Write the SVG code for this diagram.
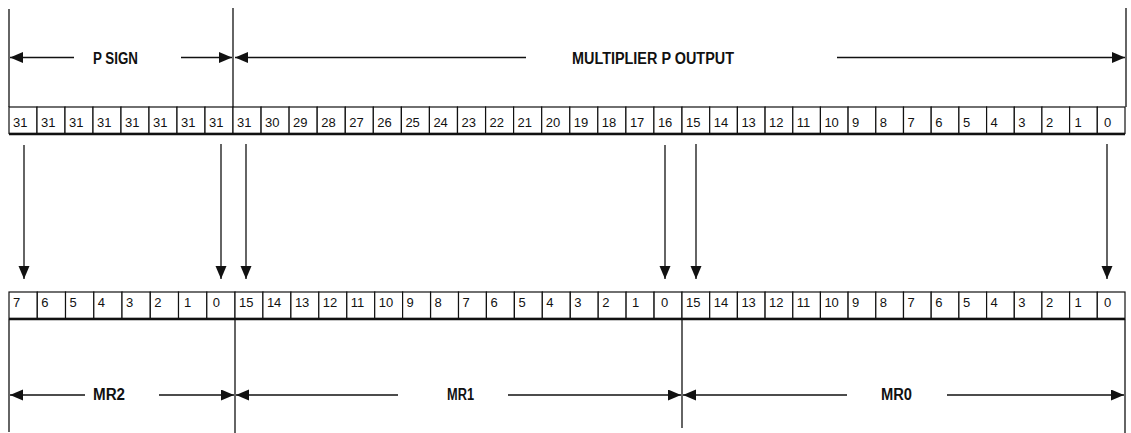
<svg xmlns="http://www.w3.org/2000/svg" width="1131" height="433" viewBox="0 0 1131 433">
<style>
.cell{fill:#fff;stroke:#111;stroke-width:1.2}
.num{font-family:"Liberation Sans",Arial,sans-serif;font-size:13px;fill:#111}
.lbl{font-family:"Liberation Sans",Arial,sans-serif;font-size:16px;font-weight:bold;fill:#111}
.ln{stroke:#111;stroke-width:1.3;fill:none}
.thick{stroke:#111;stroke-width:2.4;fill:none}
.arr{stroke:#111;stroke-width:1.3;fill:none;marker-end:url(#ah)}
</style>
<defs>
<marker id="ah" markerUnits="userSpaceOnUse" markerWidth="14" markerHeight="12" refX="13" refY="5.5" orient="auto">
<path d="M0,0 L13,5.5 L0,11 Z" fill="#111"/>
</marker>
</defs>
<rect width="1131" height="433" fill="#fff"/>

<g id="p-sign">
<rect class="cell" x="9" y="107" width="28" height="26.5"/><text class="num" x="13" y="127">31</text>
<rect class="cell" x="37" y="107" width="28" height="26.5"/><text class="num" x="41" y="127">31</text>
<rect class="cell" x="65" y="107" width="28" height="26.5"/><text class="num" x="69" y="127">31</text>
<rect class="cell" x="93" y="107" width="28" height="26.5"/><text class="num" x="97" y="127">31</text>
<rect class="cell" x="121" y="107" width="28" height="26.5"/><text class="num" x="125" y="127">31</text>
<rect class="cell" x="149" y="107" width="28" height="26.5"/><text class="num" x="153" y="127">31</text>
<rect class="cell" x="177" y="107" width="28" height="26.5"/><text class="num" x="181" y="127">31</text>
<rect class="cell" x="205" y="107" width="28" height="26.5"/><text class="num" x="209" y="127">31</text>
</g>

<g id="p-output">
<rect class="cell" x="233" y="107" width="28.06" height="26.5"/><text class="num" x="237" y="127">31</text>
<rect class="cell" x="261.1" y="107" width="28.06" height="26.5"/><text class="num" x="265.1" y="127">30</text>
<rect class="cell" x="289.1" y="107" width="28.06" height="26.5"/><text class="num" x="293.1" y="127">29</text>
<rect class="cell" x="317.2" y="107" width="28.06" height="26.5"/><text class="num" x="321.2" y="127">28</text>
<rect class="cell" x="345.3" y="107" width="28.06" height="26.5"/><text class="num" x="349.3" y="127">27</text>
<rect class="cell" x="373.3" y="107" width="28.06" height="26.5"/><text class="num" x="377.3" y="127">26</text>
<rect class="cell" x="401.4" y="107" width="28.06" height="26.5"/><text class="num" x="405.4" y="127">25</text>
<rect class="cell" x="429.4" y="107" width="28.06" height="26.5"/><text class="num" x="433.4" y="127">24</text>
<rect class="cell" x="457.5" y="107" width="28.06" height="26.5"/><text class="num" x="461.5" y="127">23</text>
<rect class="cell" x="485.6" y="107" width="28.06" height="26.5"/><text class="num" x="489.6" y="127">22</text>
<rect class="cell" x="513.6" y="107" width="28.06" height="26.5"/><text class="num" x="517.6" y="127">21</text>
<rect class="cell" x="541.7" y="107" width="28.06" height="26.5"/><text class="num" x="545.7" y="127">20</text>
<rect class="cell" x="569.8" y="107" width="28.06" height="26.5"/><text class="num" x="573.8" y="127">19</text>
<rect class="cell" x="597.8" y="107" width="28.06" height="26.5"/><text class="num" x="601.8" y="127">18</text>
<rect class="cell" x="625.9" y="107" width="28.06" height="26.5"/><text class="num" x="629.9" y="127">17</text>
<rect class="cell" x="653.9" y="107" width="28.06" height="26.5"/><text class="num" x="657.9" y="127">16</text>
<rect class="cell" x="682" y="107" width="27.69" height="26.5"/><text class="num" x="686" y="127">15</text>
<rect class="cell" x="709.7" y="107" width="27.69" height="26.5"/><text class="num" x="713.7" y="127">14</text>
<rect class="cell" x="737.4" y="107" width="27.69" height="26.5"/><text class="num" x="741.4" y="127">13</text>
<rect class="cell" x="765.1" y="107" width="27.69" height="26.5"/><text class="num" x="769.1" y="127">12</text>
<rect class="cell" x="792.8" y="107" width="27.69" height="26.5"/><text class="num" x="796.8" y="127">11</text>
<rect class="cell" x="820.4" y="107" width="27.69" height="26.5"/><text class="num" x="824.4" y="127">10</text>
<rect class="cell" x="848.1" y="107" width="27.69" height="26.5"/><text class="num" x="852.1" y="127">9</text>
<rect class="cell" x="875.8" y="107" width="27.69" height="26.5"/><text class="num" x="879.8" y="127">8</text>
<rect class="cell" x="903.5" y="107" width="27.69" height="26.5"/><text class="num" x="907.5" y="127">7</text>
<rect class="cell" x="931.2" y="107" width="27.69" height="26.5"/><text class="num" x="935.2" y="127">6</text>
<rect class="cell" x="958.9" y="107" width="27.69" height="26.5"/><text class="num" x="962.9" y="127">5</text>
<rect class="cell" x="986.6" y="107" width="27.69" height="26.5"/><text class="num" x="990.6" y="127">4</text>
<rect class="cell" x="1014.3" y="107" width="27.69" height="26.5"/><text class="num" x="1018.3" y="127">3</text>
<rect class="cell" x="1041.9" y="107" width="27.69" height="26.5"/><text class="num" x="1045.9" y="127">2</text>
<rect class="cell" x="1069.6" y="107" width="27.69" height="26.5"/><text class="num" x="1074.6" y="127">1</text>
<rect class="cell" x="1097.3" y="107" width="27.7" height="26.5"/><text class="num" x="1104" y="127">0</text>
</g>

<g id="mr2">
<rect class="cell" x="9" y="292" width="28.25" height="26.5"/><text class="num" x="13" y="307">7</text>
<rect class="cell" x="37.3" y="292" width="28.25" height="26.5"/><text class="num" x="41.3" y="307">6</text>
<rect class="cell" x="65.5" y="292" width="28.25" height="26.5"/><text class="num" x="69.5" y="307">5</text>
<rect class="cell" x="93.8" y="292" width="28.25" height="26.5"/><text class="num" x="97.8" y="307">4</text>
<rect class="cell" x="122" y="292" width="28.25" height="26.5"/><text class="num" x="126" y="307">3</text>
<rect class="cell" x="150.3" y="292" width="28.25" height="26.5"/><text class="num" x="154.3" y="307">2</text>
<rect class="cell" x="178.5" y="292" width="28.25" height="26.5"/><text class="num" x="184" y="307">1</text>
<rect class="cell" x="206.8" y="292" width="28.2" height="26.5"/><text class="num" x="212.8" y="307">0</text>
</g>

<g id="mr1">
<rect class="cell" x="235" y="292" width="27.94" height="26.5"/><text class="num" x="239" y="307">15</text>
<rect class="cell" x="262.9" y="292" width="27.94" height="26.5"/><text class="num" x="266.9" y="307">14</text>
<rect class="cell" x="290.9" y="292" width="27.94" height="26.5"/><text class="num" x="294.9" y="307">13</text>
<rect class="cell" x="318.8" y="292" width="27.94" height="26.5"/><text class="num" x="322.8" y="307">12</text>
<rect class="cell" x="346.8" y="292" width="27.94" height="26.5"/><text class="num" x="350.8" y="307">11</text>
<rect class="cell" x="374.7" y="292" width="27.94" height="26.5"/><text class="num" x="378.7" y="307">10</text>
<rect class="cell" x="402.6" y="292" width="27.94" height="26.5"/><text class="num" x="406.6" y="307">9</text>
<rect class="cell" x="430.6" y="292" width="27.94" height="26.5"/><text class="num" x="434.6" y="307">8</text>
<rect class="cell" x="458.5" y="292" width="27.94" height="26.5"/><text class="num" x="462.5" y="307">7</text>
<rect class="cell" x="486.4" y="292" width="27.94" height="26.5"/><text class="num" x="490.4" y="307">6</text>
<rect class="cell" x="514.4" y="292" width="27.94" height="26.5"/><text class="num" x="518.4" y="307">5</text>
<rect class="cell" x="542.3" y="292" width="27.94" height="26.5"/><text class="num" x="546.3" y="307">4</text>
<rect class="cell" x="570.3" y="292" width="27.94" height="26.5"/><text class="num" x="574.3" y="307">3</text>
<rect class="cell" x="598.2" y="292" width="27.94" height="26.5"/><text class="num" x="602.2" y="307">2</text>
<rect class="cell" x="626.1" y="292" width="27.94" height="26.5"/><text class="num" x="632.1" y="307">1</text>
<rect class="cell" x="654.1" y="292" width="27.9" height="26.5"/><text class="num" x="661" y="307">0</text>
</g>

<g id="mr0">
<rect class="cell" x="682" y="292" width="27.69" height="26.5"/><text class="num" x="686" y="307">15</text>
<rect class="cell" x="709.7" y="292" width="27.69" height="26.5"/><text class="num" x="713.7" y="307">14</text>
<rect class="cell" x="737.4" y="292" width="27.69" height="26.5"/><text class="num" x="741.4" y="307">13</text>
<rect class="cell" x="765.1" y="292" width="27.69" height="26.5"/><text class="num" x="769.1" y="307">12</text>
<rect class="cell" x="792.8" y="292" width="27.69" height="26.5"/><text class="num" x="796.8" y="307">11</text>
<rect class="cell" x="820.4" y="292" width="27.69" height="26.5"/><text class="num" x="824.4" y="307">10</text>
<rect class="cell" x="848.1" y="292" width="27.69" height="26.5"/><text class="num" x="852.1" y="307">9</text>
<rect class="cell" x="875.8" y="292" width="27.69" height="26.5"/><text class="num" x="879.8" y="307">8</text>
<rect class="cell" x="903.5" y="292" width="27.69" height="26.5"/><text class="num" x="907.5" y="307">7</text>
<rect class="cell" x="931.2" y="292" width="27.69" height="26.5"/><text class="num" x="935.2" y="307">6</text>
<rect class="cell" x="958.9" y="292" width="27.69" height="26.5"/><text class="num" x="962.9" y="307">5</text>
<rect class="cell" x="986.6" y="292" width="27.69" height="26.5"/><text class="num" x="990.6" y="307">4</text>
<rect class="cell" x="1014.3" y="292" width="27.69" height="26.5"/><text class="num" x="1018.3" y="307">3</text>
<rect class="cell" x="1041.9" y="292" width="27.69" height="26.5"/><text class="num" x="1045.9" y="307">2</text>
<rect class="cell" x="1069.6" y="292" width="27.69" height="26.5"/><text class="num" x="1074.6" y="307">1</text>
<rect class="cell" x="1097.3" y="292" width="27.7" height="26.5"/><text class="num" x="1104" y="307">0</text>
</g>

<g id="row-shading">
<line class="thick" x1="9" y1="134" x2="1125" y2="134"/>
<line class="thick" x1="9" y1="319" x2="1125" y2="319"/>
</g>

<g id="extents">
<line class="ln" x1="9" y1="9" x2="9" y2="107"/>
<line class="ln" x1="233" y1="8" x2="233" y2="107"/>
<line class="ln" x1="1126" y1="8" x2="1126" y2="107"/>
<line class="ln" x1="9" y1="319" x2="9" y2="432"/>
<line class="ln" x1="235" y1="319" x2="235" y2="433"/>
<line class="ln" x1="682" y1="319" x2="682" y2="428"/>
<line class="ln" x1="1125" y1="319" x2="1125" y2="433"/>
</g>

<g id="labels">
<text class="lbl" x="93" y="64" textLength="45" lengthAdjust="spacingAndGlyphs">P SIGN</text>
<text class="lbl" x="572" y="63.5" textLength="162" lengthAdjust="spacingAndGlyphs">MULTIPLIER P OUTPUT</text>
<text class="lbl" x="93" y="400" textLength="32" lengthAdjust="spacingAndGlyphs">MR2</text>
<text class="lbl" x="447" y="400" textLength="27" lengthAdjust="spacingAndGlyphs">MR1</text>
<text class="lbl" x="881" y="400" textLength="31" lengthAdjust="spacingAndGlyphs">MR0</text>
</g>

<g id="connectors">
<line class="arr" x1="74" y1="57.5" x2="10" y2="57.5"/>
<line class="arr" x1="181" y1="57.5" x2="232" y2="57.5"/>
<line class="arr" x1="526" y1="57.5" x2="235" y2="57.5"/>
<line class="arr" x1="837" y1="57.5" x2="1125" y2="57.5"/>
<line class="arr" x1="85" y1="395" x2="10" y2="395"/>
<line class="arr" x1="159" y1="395" x2="234" y2="395"/>
<line class="arr" x1="398" y1="395" x2="236" y2="395"/>
<line class="arr" x1="508" y1="395" x2="681" y2="395"/>
<line class="arr" x1="847" y1="395" x2="683" y2="395"/>
<line class="arr" x1="947" y1="395" x2="1124" y2="395"/>
<line class="arr" x1="24" y1="145" x2="24" y2="279"/>
<line class="arr" x1="221" y1="144" x2="221" y2="279"/>
<line class="arr" x1="246" y1="144" x2="246" y2="279"/>
<line class="arr" x1="665" y1="145" x2="665" y2="279"/>
<line class="arr" x1="696" y1="144" x2="696" y2="279"/>
<line class="arr" x1="1107" y1="144" x2="1107" y2="279"/>
</g>
</svg>
